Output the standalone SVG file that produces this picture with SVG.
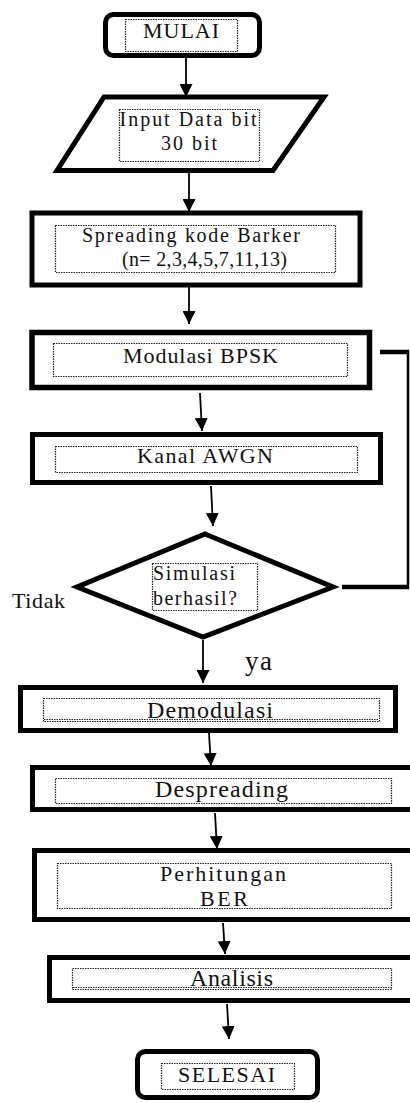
<svg xmlns="http://www.w3.org/2000/svg" width="410" height="1103" viewBox="0 0 410 1103">
<style>
.box{fill:#fff;stroke:#000;stroke-width:5}
.dot{fill:none;stroke:#222;stroke-width:1.2;stroke-dasharray:1.5 1}
.t{font-family:"Liberation Serif","Times New Roman",serif;font-size:22px;fill:#111}
.l{font-size:24px}
.s{font-size:20px}
.c{text-anchor:middle}
.ln{stroke:#000;stroke-width:1.8;fill:none}
.loop{stroke:#000;fill:none}
</style>
<defs>
<marker id="ah" markerUnits="userSpaceOnUse" markerWidth="13" markerHeight="13" refX="13" refY="6.5" orient="auto">
<path d="M0,0 L13,6.5 L0,13 z" fill="#000"/>
</marker>
<clipPath id="berclip"><rect x="0" y="860" width="410" height="48"/></clipPath>
</defs>
<rect width="410" height="1103" fill="#fff"/>

<g id="connectors">
<line class="ln" x1="186" y1="58" x2="186" y2="97" marker-end="url(#ah)"/>
<line class="ln" x1="189" y1="172" x2="189" y2="212" marker-end="url(#ah)"/>
<line class="ln" x1="189" y1="287" x2="189" y2="324" marker-end="url(#ah)"/>
<line class="ln" x1="200" y1="393" x2="202" y2="431" marker-end="url(#ah)"/>
<line class="ln" x1="211" y1="486" x2="213" y2="526" marker-end="url(#ah)"/>
<line class="ln" x1="203" y1="640" x2="203" y2="683" marker-end="url(#ah)"/>
<line class="ln" x1="209" y1="733" x2="211" y2="766" marker-end="url(#ah)"/>
<line class="ln" x1="215" y1="813" x2="217" y2="849" marker-end="url(#ah)"/>
<line class="ln" x1="223" y1="923" x2="225" y2="954" marker-end="url(#ah)"/>
<line class="ln" x1="227" y1="1004" x2="229" y2="1039" marker-end="url(#ah)"/>
<line class="loop" x1="380" y1="352" x2="409" y2="352" stroke-width="4.5"/>
<line class="loop" x1="408" y1="350" x2="408" y2="589" stroke-width="2.5"/>
<line class="loop" x1="342" y1="587" x2="409" y2="587" stroke-width="4.5"/>
</g>

<g id="mulai">
<rect class="box" x="105.5" y="14.5" width="154" height="41" rx="8"/>
<rect class="dot" x="125.5" y="19.5" width="112" height="32"/>
<text class="t c" x="181" y="38" textLength="76">MULAI</text>
</g>

<g id="input">
<polygon class="box" points="104,97 324,97 273,170.5 57,170.5"/>
<rect class="dot" x="119.5" y="109.5" width="140" height="52"/>
<text class="t s c" x="188" y="126" textLength="137">Input Data bit</text>
<text class="t s c" x="189" y="150" textLength="56">30 bit</text>
</g>

<g id="spreading">
<rect class="box" x="32" y="213" width="328" height="72"/>
<rect class="dot" x="55.5" y="225.5" width="280" height="47"/>
<text class="t s c" x="191" y="242" textLength="218">Spreading kode Barker</text>
<text class="t s c" x="204.5" y="266" textLength="165">(n= 2,3,4,5,7,11,13)</text>
</g>

<g id="modulasi">
<rect class="box" x="32" y="332.5" width="337.5" height="55" style="stroke-width:5.5"/>
<rect class="dot" x="53.5" y="343.5" width="294" height="33"/>
<text class="t c" x="200.5" y="363" textLength="155">Modulasi BPSK</text>
</g>

<g id="kanal">
<rect class="box" x="32.5" y="434.5" width="348" height="48"/>
<rect class="dot" x="55.5" y="446.5" width="302" height="26"/>
<text class="t c" x="205" y="463" textLength="136">Kanal AWGN</text>
</g>

<g id="simulasi">
<polygon class="box" points="205,534 333,587 203,637 77,587"/>
<rect class="dot" x="152.5" y="563.5" width="105" height="47"/>
<text class="t s" x="153" y="580" textLength="82">Simulasi</text>
<text class="t s" x="153" y="605" textLength="84">berhasil?</text>
</g>

<g id="label-tidak">
<text class="t" x="12" y="608" textLength="53">Tidak</text>
</g>
<g id="label-ya">
<text class="t" x="245" y="670" style="font-size:27px" textLength="27">ya</text>
</g>

<g id="demodulasi">
<rect class="box" x="20.5" y="687.5" width="375" height="43"/>
<rect class="dot" x="43.5" y="698.5" width="336" height="23"/>
<line class="dot" x1="44" y1="719.5" x2="379" y2="719.5"/>
<text class="t l c" x="210" y="718" textLength="126">Demodulasi</text>
</g>

<g id="despreading">
<rect class="box" x="32.5" y="767.5" width="385" height="42"/>
<rect class="dot" x="55.5" y="778.5" width="336" height="25"/>
<text class="t l c" x="221.5" y="797" textLength="133">Despreading</text>
</g>

<g id="perhitungan">
<rect class="box" x="34.5" y="850.5" width="385" height="69"/>
<rect class="dot" x="57.5" y="863.5" width="334" height="45"/>
<text class="t c" x="223" y="881" textLength="126">Perhitungan</text>
<text class="t c" x="224" y="906" textLength="48" clip-path="url(#berclip)">BER</text>
</g>

<g id="analisis">
<rect class="box" x="49.5" y="957.5" width="370" height="43"/>
<rect class="dot" x="72.5" y="968.5" width="319" height="21"/>
<line class="dot" x1="73" y1="987.5" x2="391" y2="987.5"/>
<text class="t l c" x="231.5" y="986" textLength="83">Analisis</text>
</g>

<g id="selesai">
<rect class="box" x="137.5" y="1051.5" width="180" height="46" rx="8"/>
<rect class="dot" x="161.5" y="1063.5" width="133" height="26"/>
<text class="t c" x="226.5" y="1082" textLength="97">SELESAI</text>
</g>
</svg>
